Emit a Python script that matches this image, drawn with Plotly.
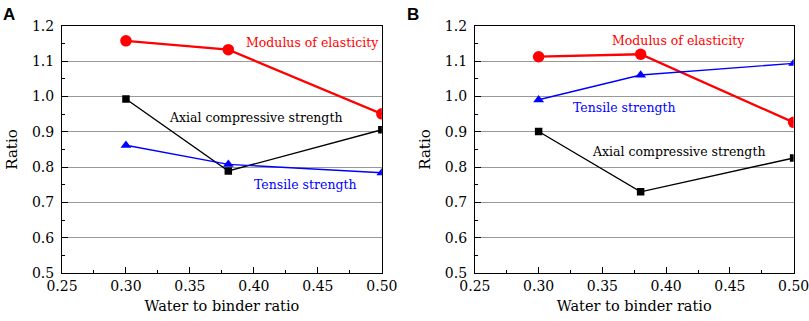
import plotly.graph_objects as go

wb = [0.30, 0.38, 0.50]
a_modulus = [1.158, 1.133, 0.951]
a_axial = [0.993, 0.789, 0.906]
a_tensile = [0.862, 0.808, 0.784]
b_modulus = [1.113, 1.120, 0.927]
b_axial = [0.901, 0.730, 0.826]
b_tensile = [0.991, 1.061, 1.094]

FONT = "DejaVu Serif"
fig = go.Figure()

def add_panel(xa, ya, mod, axial, ten):
    fig.add_trace(go.Scatter(x=wb, y=mod, mode="lines+markers", xaxis=xa, yaxis=ya,
                             line=dict(color="#ff0000", width=2.3),
                             marker=dict(symbol="circle", size=11.5, color="#ff0000"), showlegend=False))
    fig.add_trace(go.Scatter(x=wb, y=axial, mode="lines+markers", xaxis=xa, yaxis=ya,
                             line=dict(color="#000000", width=1.4),
                             marker=dict(symbol="square", size=7.5, color="#000000"), showlegend=False))
    fig.add_trace(go.Scatter(x=wb, y=ten, mode="lines+markers", xaxis=xa, yaxis=ya,
                             line=dict(color="#0000ff", width=1.4),
                             marker=dict(symbol="triangle-up", size=9.5, color="#0000ff"), showlegend=False))

add_panel("x", "y", a_modulus, a_axial, a_tensile)
add_panel("x2", "y2", b_modulus, b_axial, b_tensile)

xcommon = dict(range=[0.25, 0.50], dtick=0.05, tickformat=".2f", ticks="inside", ticklen=6,
               tickcolor="black", showline=True, linecolor="black", linewidth=1, mirror=True,
               showgrid=False, zeroline=False, automargin=False, ticklabeloverflow="allow",
               tickfont=dict(family=FONT, size=14, color="black"),
               minor=dict(ticks="inside", ticklen=3, dtick=0.025, tickcolor="black"),
               title=dict(text="Water to binder ratio", font=dict(family=FONT, size=14.5, color="black"), standoff=8))
ycommon = dict(range=[0.5, 1.2], dtick=0.1, tickformat=".1f", ticks="inside", ticklen=6,
               tickcolor="black", showline=True, linecolor="black", linewidth=1, mirror=True,
               showgrid=True, gridcolor="#999999", gridwidth=1, zeroline=False, automargin=False,
               ticklabelstandoff=4, ticklabeloverflow="allow",
               tickfont=dict(family=FONT, size=14, color="black"),
               minor=dict(ticks="inside", ticklen=3, dtick=0.05, tickcolor="black", showgrid=False),
               title=dict(text="Ratio", font=dict(family=FONT, size=15, color="black"), standoff=10))

fig.update_layout(
    width=809, height=321, margin=dict(l=0, r=0, t=0, b=0),
    paper_bgcolor="white", plot_bgcolor="white",
    font=dict(family=FONT),
    xaxis=dict(domain=[0.0766, 0.472], anchor="y", **xcommon),
    yaxis=dict(domain=[0.1495, 0.919], anchor="x", **ycommon),
    xaxis2=dict(domain=[0.587, 0.981], anchor="y2", **xcommon),
    yaxis2=dict(domain=[0.1495, 0.919], anchor="x2", **ycommon),
)

def ann(xref, yref, x, y, text, color):
    fig.add_annotation(x=x, y=y, xref=xref, yref=yref, text=text, showarrow=False,
                       font=dict(family=FONT, size=12.5, color=color))

ann("x", "y", 0.446, 1.152, "Modulus of elasticity", "#ff0000")
ann("x", "y", 0.4016, 0.942, "Axial compressive strength", "#000000")
ann("x", "y", 0.440, 0.750, "Tensile strength", "#0000ff")
ann("x2", "y2", 0.410, 1.160, "Modulus of elasticity", "#ff0000")
ann("x2", "y2", 0.367, 0.968, "Tensile strength", "#0000ff")
ann("x2", "y2", 0.410, 0.843, "Axial compressive strength", "#000000")

fig.add_annotation(x=1 / 809, y=1 - 3 / 321, xref="paper", yref="paper", xanchor="left", yanchor="top",
                   text="<b>A</b>", showarrow=False, font=dict(family="Liberation Sans", size=17, color="black"))
fig.add_annotation(x=405 / 809, y=1 - 3 / 321, xref="paper", yref="paper", xanchor="left", yanchor="top",
                   text="<b>B</b>", showarrow=False, font=dict(family="Liberation Sans", size=17, color="black"))

fig.write_html("out.html", config={"displayModeBar": False},
               post_script="document.body.style.margin='0';document.body.style.overflow='hidden';")
